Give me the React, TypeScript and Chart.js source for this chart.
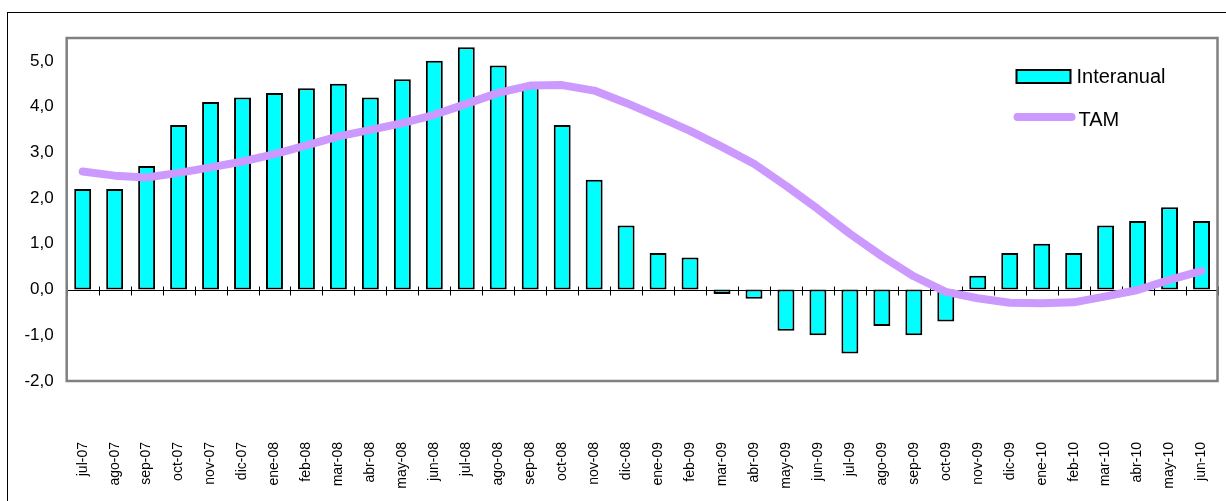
import React, { useEffect, useRef } from "react";
import { Chart, registerables } from "chart.js";

Chart.register(...registerables);

const months = [
  "jul-07", "ago-07", "sep-07", "oct-07", "nov-07", "dic-07",
  "ene-08", "feb-08", "mar-08", "abr-08", "may-08", "jun-08",
  "jul-08", "ago-08", "sep-08", "oct-08", "nov-08", "dic-08",
  "ene-09", "feb-09", "mar-09", "abr-09", "may-09", "jun-09",
  "jul-09", "ago-09", "sep-09", "oct-09", "nov-09", "dic-09",
  "ene-10", "feb-10", "mar-10", "abr-10", "may-10", "jun-10",
];

const interanual = [
  2.2, 2.2, 2.7, 3.6, 4.1, 4.2,
  4.3, 4.4, 4.5, 4.2, 4.6, 5.0,
  5.3, 4.9, 4.5, 3.6, 2.4, 1.4,
  0.8, 0.7, -0.1, -0.2, -0.9, -1.0,
  -1.4, -0.8, -1.0, -0.7, 0.3, 0.8,
  1.0, 0.8, 1.4, 1.5, 1.8, 1.5,
];

const tam = [
  2.58, 2.49, 2.45, 2.55, 2.67, 2.8,
  2.96, 3.15, 3.35, 3.49, 3.64, 3.82,
  4.06, 4.3, 4.46, 4.47, 4.35, 4.08,
  3.78, 3.47, 3.12, 2.75, 2.27, 1.76,
  1.22, 0.73, 0.29, -0.05, -0.19, -0.29,
  -0.3, -0.28, -0.15, -0.01, 0.21, 0.41,
];

const yTicks = [-2, -1, 0, 1, 2, 3, 4, 5];
const yMin = -2;
const yMax = 5.5;

const seriesNames = ["Interanual", "TAM"];

const FONT = "'Liberation Sans', Arial, sans-serif";
const BAR_COLOR = "#00FFFF";
const LINE_COLOR = "#CC99FF";

const framePlugin = {
  id: "frame",
  beforeDraw(chart: any) {
    const ctx = chart.ctx;
    ctx.save();
    ctx.fillStyle = "#ffffff";
    ctx.fillRect(0, 0, chart.width, chart.height);
    ctx.strokeStyle = "#000000";
    ctx.lineWidth = 1;
    ctx.strokeRect(7.5, 12.5, chart.width + 100, chart.height + 100);
    ctx.restore();
  },
  beforeDatasetsDraw(chart: any) {
    const ctx = chart.ctx;
    const { left, right } = chart.chartArea;
    const y0 = Math.round(chart.scales.y.getPixelForValue(0)) + 0.5;
    const xs = chart.scales.x;
    ctx.save();
    ctx.strokeStyle = "#000000";
    ctx.lineWidth = 1;
    ctx.beginPath();
    ctx.moveTo(left, y0);
    ctx.lineTo(right, y0);
    const n = months.length;
    const step = (right - left) / n;
    for (let i = 0; i <= n; i++) {
      const x = i < n ? xs.getPixelForTick(i) - step / 2 : xs.getPixelForTick(n - 1) + step / 2;
      const xr = Math.round(x) + 0.5;
      ctx.moveTo(xr, y0 - 4);
      ctx.lineTo(xr, y0 + 5);
    }
    ctx.stroke();
    ctx.restore();
  },
  afterDraw(chart: any) {
    const ctx = chart.ctx;
    const { left, right, top, bottom } = chart.chartArea;
    ctx.save();
    ctx.strokeStyle = "#808080";
    ctx.lineWidth = 2.5;
    ctx.strokeRect(left, top, right - left, bottom - top);

    // legend
    const lx = right - 201;
    ctx.fillStyle = BAR_COLOR;
    ctx.fillRect(lx, 70, 54, 13);
    ctx.strokeStyle = "#000000";
    ctx.lineWidth = 2;
    ctx.strokeRect(lx, 70, 54, 13);
    ctx.fillStyle = "#000000";
    ctx.font = `20px ${FONT}`;
    ctx.textBaseline = "middle";
    ctx.textAlign = "left";
    ctx.fillText(seriesNames[0], lx + 60, 77);

    ctx.strokeStyle = LINE_COLOR;
    ctx.lineWidth = 8;
    ctx.lineCap = "round";
    ctx.beginPath();
    ctx.moveTo(lx + 1, 117);
    ctx.lineTo(lx + 55, 117);
    ctx.stroke();
    ctx.fillText(seriesNames[1], lx + 62, 120);
    ctx.restore();
  },
};

export default function App() {
  const ref = useRef<HTMLCanvasElement | null>(null);

  useEffect(() => {
    if (!ref.current) return;
    const chart = new Chart(ref.current, {
      type: "bar",
      data: {
        labels: months,
        datasets: [
          {
            type: "line",
            label: seriesNames[1],
            data: tam,
            borderColor: LINE_COLOR,
            backgroundColor: LINE_COLOR,
            borderWidth: 8,
            pointRadius: 0,
            tension: 0,
            borderCapStyle: "round",
            borderJoinStyle: "round",
            order: 0,
          } as any,
          {
            type: "bar",
            label: seriesNames[0],
            data: interanual,
            backgroundColor: BAR_COLOR,
            borderColor: "#000000",
            borderWidth: 2,
            borderSkipped: false,
            categoryPercentage: 1,
            barPercentage: 0.53,
            order: 1,
          } as any,
        ],
      },
      options: {
        animation: false,
        responsive: false,
        devicePixelRatio: 1,
        layout: { padding: { left: 0, top: 38, right: 8.5, bottom: 0 } },
        plugins: {
          legend: { display: false },
          tooltip: { enabled: false },
        },
        scales: {
          x: {
            grid: { display: false, drawTicks: false },
            border: { display: false },
            ticks: {
              autoSkip: false,
              minRotation: 90,
              maxRotation: 90,
              padding: 61,
              color: "#000000",
              font: { family: FONT, size: 14 },
            },
            afterFit(scale: any) {
              scale.height = 120;
              scale.paddingLeft = 0;
              scale.paddingRight = 0;
            },
          },
          y: {
            min: yMin,
            max: yMax,
            grid: { display: false, drawTicks: false },
            border: { display: false },
            ticks: {
              padding: 13,
              color: "#000000",
              font: { family: FONT, size: 17 },
              callback: (v: any) => Number(v).toFixed(1).replace(".", ","),
            },
            afterBuildTicks(scale: any) {
              scale.ticks = yTicks.map((v) => ({ value: v }));
            },
            afterFit(scale: any) {
              scale.width = 66.7;
              scale.paddingTop = 0;
              scale.paddingBottom = 0;
            },
          },
        },
      },
      plugins: [framePlugin],
    });
    return () => chart.destroy();
  }, []);

  return (
    <div style={{ position: "fixed", left: 0, top: 0, width: 1226, height: 501, overflow: "hidden", background: "#fff" }}>
      <canvas ref={ref} width={1226} height={501} />
    </div>
  );
}
